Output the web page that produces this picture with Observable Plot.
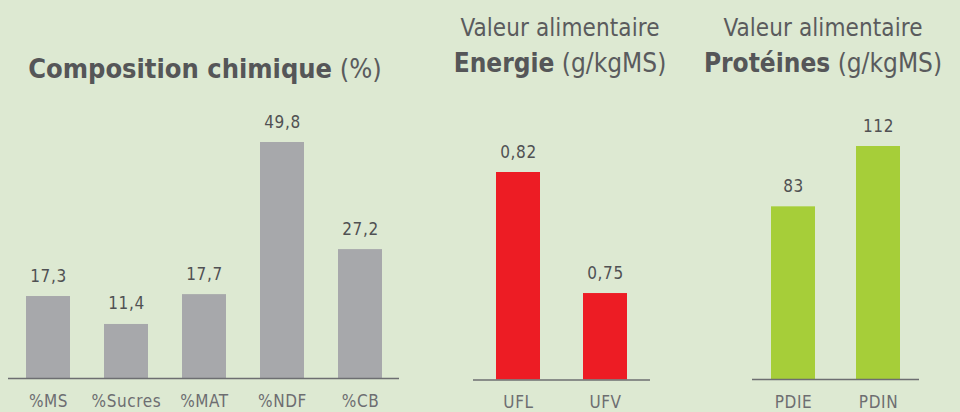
<!DOCTYPE html>
<html>
<head>
<meta charset="utf-8">
<script src="https://cdn.jsdelivr.net/npm/d3@7"></script>
<script src="https://cdn.jsdelivr.net/npm/@observablehq/plot@0.6"></script>
<style>
  html, body { margin: 0; padding: 0; background: #dde9d2; }
  #chart {
    position: relative; width: 960px; height: 412px; overflow: hidden;
    background: #dde9d2;
    font-family: "DejaVu Sans Condensed", "Liberation Sans Narrow", "Arial Narrow", sans-serif;
    color: #58595b;
  }
  .panel { position: absolute; top: 100px; }
  .title { position: absolute; text-align: center; white-space: nowrap; color: #5a5b5d; }
  .title b { font-weight: bold; color: #555658; }
</style>
</head>
<body>
<div id="chart">
  <div class="title" style="left:0px; width:410px; top:51px; font-size:27px; line-height:36px;"><b>Composition chimique</b> (%)</div>
  <div class="title" style="left:440px; width:240px; top:13px; font-size:24px; line-height:30px; letter-spacing:0.1px;">Valeur alimentaire</div>
  <div class="title" style="left:440px; width:240px; top:46px; font-size:26px; line-height:34px;"><b>Energie</b> (g/kgMS)</div>
  <div class="title" style="left:703px; width:240px; top:13px; font-size:24px; line-height:30px; letter-spacing:0.1px;">Valeur alimentaire</div>
  <div class="title" style="left:703px; width:240px; top:46px; font-size:26px; line-height:34px;"><b>Protéines</b> (g/kgMS)</div>
  <div class="panel" id="p1" style="left:0px;"></div>
  <div class="panel" id="p2" style="left:440px;"></div>
  <div class="panel" id="p3" style="left:700px;"></div>
</div>
<script>
// ---- Data ----
const compoCategories = ["%MS", "%Sucres", "%MAT", "%NDF", "%CB"];
const compoValues = [17.3, 11.4, 17.7, 49.8, 27.2];

const energieCategories = ["UFL", "UFV"];
const energieValues = [0.82, 0.75];
const energieBase = 0.70;

const proteinesCategories = ["PDIE", "PDIN"];
const proteinesValues = [83, 112];

// ---- Drawing ----
const FONT = '"DejaVu Sans Condensed", "Liberation Sans Narrow", "Arial Narrow", sans-serif';
const fmt = v => String(v).replace(".", ",");

function panel(o) {
  const data = o.cats.map((c, i) => ({cat: c, value: o.vals[i], base: o.base, label: fmt(o.vals[i])}));
  return Plot.plot({
    width: o.width, height: o.height,
    marginLeft: o.marginLeft, marginRight: o.marginRight,
    marginTop: o.marginTop, marginBottom: o.marginBottom,
    style: {background: "transparent", fontFamily: FONT, color: "#6d6e71", overflow: "visible"},
    x: {domain: o.cats, paddingInner: o.paddingInner, paddingOuter: o.paddingOuter},
    y: {domain: o.yDomain, axis: null},
    marks: [
      Plot.barY(data, {x: "cat", y1: "base", y2: "value", fill: o.fill}),
      Plot.ruleY([o.base], {stroke: "#6d6e71", strokeWidth: 1.6}),
      Plot.text(data, {x: "cat", y: "value", text: "label", lineAnchor: "bottom", dy: -15, fontSize: 17, fill: "#505153", style: "letter-spacing:0.8px"}),
      Plot.axisX({tickSize: 0, tickPadding: 16, fontSize: 17, color: "#6d6e71", label: null})
    ]
  });
}

function addPanel(id, opts) {
  const svg = panel(opts);
  svg.querySelectorAll("text").forEach(t => t.style.letterSpacing = "0.6px");
  document.getElementById(id).append(svg);
}

addPanel("p1", {
  cats: compoCategories, vals: compoValues, base: 0, fill: "#a7a8ab",
  width: 410, height: 312, marginLeft: 8, marginRight: 11, marginTop: 42, marginBottom: 34,
  paddingInner: 0.44, paddingOuter: 0.22, yDomain: [0, d3.max(compoValues)]
});

addPanel("p2", {
  cats: energieCategories, vals: energieValues, base: energieBase, fill: "#ed1c24",
  width: 230, height: 312, marginLeft: 33, marginRight: 20, marginTop: 72, marginBottom: 32.5,
  paddingInner: 0.5, paddingOuter: 0.256, yDomain: [energieBase, d3.max(energieValues)]
});

addPanel("p3", {
  cats: proteinesCategories, vals: proteinesValues, base: 0, fill: "#a6ce39",
  width: 260, height: 312, marginLeft: 52, marginRight: 41, marginTop: 46, marginBottom: 33,
  paddingInner: 0.482, paddingOuter: 0.223, yDomain: [0, d3.max(proteinesValues)]
});
</script>
</body>
</html>
